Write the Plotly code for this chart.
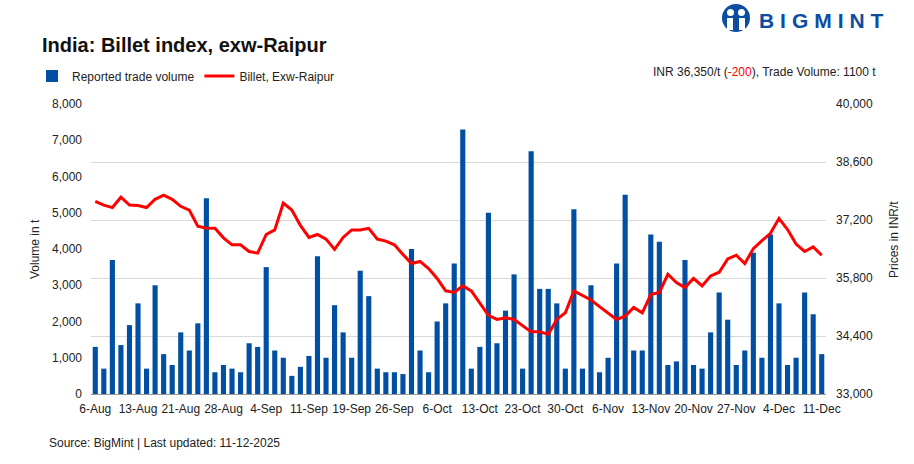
import plotly.graph_objects as go

# ---- data ----
tick_labels = ["6-Aug", "13-Aug", "21-Aug", "28-Aug", "4-Sep", "11-Sep", "19-Sep", "26-Sep",
               "6-Oct", "13-Oct", "23-Oct", "30-Oct", "6-Nov", "13-Nov", "20-Nov", "27-Nov",
               "4-Dec", "11-Dec"]

volume = [1300, 700, 3700, 1350, 1900, 2500, 700, 3000, 1100, 800,
          1700, 1200, 1950, 5400, 600, 800, 700, 600, 1400, 1300,
          3500, 1200, 1000, 500, 750, 1050, 3800, 1000, 2450, 1700,
          1000, 3400, 2700, 700, 600, 600, 550, 4000, 1200, 600,
          2000, 2500, 3600, 7300, 700, 1300, 5000, 1400, 2300, 3300,
          700, 6700, 2900, 2900, 2500, 700, 5100, 700, 3000, 600,
          1000, 3600, 5500, 1200, 1200, 4400, 4200, 800, 900, 3700,
          800, 700, 1700, 2800, 2050, 800, 1200, 3900, 1000, 4400,
          2500, 800, 1000, 2800, 2200, 1100]

price = [37650, 37560, 37500, 37750, 37560, 37550, 37500, 37700, 37800, 37700,
         37530, 37440, 37050, 37000, 37000, 36770, 36600, 36600, 36440, 36400,
         36850, 36960, 37610, 37440, 37070, 36780, 36850, 36740, 36490, 36780,
         36960, 36960, 37000, 36740, 36690, 36600, 36370, 36150, 36200, 36030,
         35790, 35490, 35450, 35610, 35490, 35190, 34900, 34800, 34840, 34800,
         34640, 34500, 34500, 34440, 34800, 34960, 35490, 35370, 35270, 35110,
         34950, 34800, 34880, 35090, 34960, 35400, 35450, 35890, 35690, 35570,
         35790, 35610, 35850, 35940, 36260, 36350, 36150, 36510, 36700, 36880,
         37240, 36970, 36620, 36440, 36550, 36350]

x_idx = list(range(len(volume)))
tick_step = 5
tick_pos = list(range(0, len(volume), tick_step))

BLUE = "#004FA3"
RED = "#FF0000"
FONT = "Liberation Sans, Arial, sans-serif"

W, H = 914, 464
L, R, T, B = 91, 88, 104, 70
PW, PH = W - L - R, H - T - B


def px(x):
    return (x - L) / PW


def py(y):
    return (H - B - y) / PH


fig = go.Figure()
fig.add_trace(go.Bar(x=x_idx, y=volume, name="Reported trade volume",
                     marker=dict(color=BLUE, line=dict(width=0)), yaxis="y"))
fig.add_trace(go.Scatter(x=x_idx, y=price, name="Billet, Exw-Raipur", mode="lines",
                         line=dict(color=RED, width=3), yaxis="y2"))

fig.update_layout(
    width=W, height=H,
    margin=dict(l=L, r=R, t=T, b=B),
    paper_bgcolor="white", plot_bgcolor="white",
    font=dict(family=FONT, size=12, color="#222222"),
    bargap=0.4,
    showlegend=True,
    legend=dict(orientation="h", x=px(32), y=py(76), xanchor="left", yanchor="middle",
                font=dict(size=12, color="#222222"), bgcolor="rgba(0,0,0,0)",
                itemwidth=30, traceorder="normal"),
    xaxis=dict(range=[-0.5, len(volume) - 0.5], tickmode="array", tickvals=tick_pos,
               ticktext=tick_labels, showgrid=False, zeroline=False, showline=True,
               linecolor="#9a9a9a", linewidth=1, ticks="", tickfont=dict(size=12),
               ticklabelstandoff=4, fixedrange=True),
    yaxis=dict(range=[0, 8000], dtick=1000, tick0=0, tickformat=",", showgrid=False,
               zeroline=False, showline=False, ticks="", tickfont=dict(size=12),
               ticklabelstandoff=8),
    yaxis2=dict(range=[33000, 40000], dtick=1400, tick0=33000, tickmode="linear",
                tickformat=",", overlaying="y", side="right",
                showgrid=True, gridcolor="#d9d9d9", gridwidth=1, zeroline=False,
                showline=False, ticks="", tickfont=dict(size=12), ticklabelstandoff=9),
)

logo_sp = "\u2009\u200a"
ann = [
    dict(text="<b>India: Billet index, exw-Raipur</b>", x=px(40), y=py(45), xanchor="left",
         yanchor="middle", font=dict(size=20, color="#111111")),
    dict(text="INR 36,350/t (<span style='color:#FF0000'>-200</span>), Trade Volume: 1100 t",
         x=px(878), y=py(72), xanchor="right", yanchor="middle", font=dict(size=12, color="#222222")),
    dict(text="Source: BigMint | Last updated: 11-12-2025", x=px(47), y=py(443), xanchor="left",
         yanchor="middle", font=dict(size=12, color="#222222")),
    dict(text="Volume in t", x=px(35), y=py(249), textangle=-90, xanchor="center",
         yanchor="middle", font=dict(size=12, color="#222222")),
    dict(text="Prices in INR/t", x=px(894), y=py(240), textangle=-90, xanchor="center",
         yanchor="middle", font=dict(size=12, color="#222222")),
    dict(text="<b>" + logo_sp.join("BIGMINT") + "</b>", x=px(757), y=py(20), xanchor="left",
         yanchor="middle", font=dict(size=21, color="#0D4DA1", family="Liberation Sans, Arial")),
]
for a in ann:
    a.update(xref="paper", yref="paper", showarrow=False)
fig.update_layout(annotations=ann)

# logo icon
cx, cy, r = 736, 18, 14
shapes = [
    dict(type="circle", x0=px(cx - r), x1=px(cx + r), y0=py(cy + r), y1=py(cy - r),
         fillcolor="#0D4DA1", line=dict(width=0)),
    dict(type="circle", x0=px(727), x1=px(734), y0=py(16), y1=py(9),
         fillcolor="white", line=dict(width=0)),
    dict(type="circle", x0=px(738), x1=px(745), y0=py(16), y1=py(9),
         fillcolor="white", line=dict(width=0)),
    dict(type="rect", x0=px(727), x1=px(733), y0=py(30), y1=py(18),
         fillcolor="white", line=dict(width=0)),
    dict(type="rect", x0=px(739), x1=px(745), y0=py(30), y1=py(18),
         fillcolor="white", line=dict(width=0)),
]
for s in shapes:
    s.update(xref="paper", yref="paper", layer="above")
fig.update_layout(shapes=shapes)

fig.write_html("out.html", config={"displayModeBar": False, "staticPlot": True},
               post_script="document.body.style.margin='0';document.body.style.padding='0';")
